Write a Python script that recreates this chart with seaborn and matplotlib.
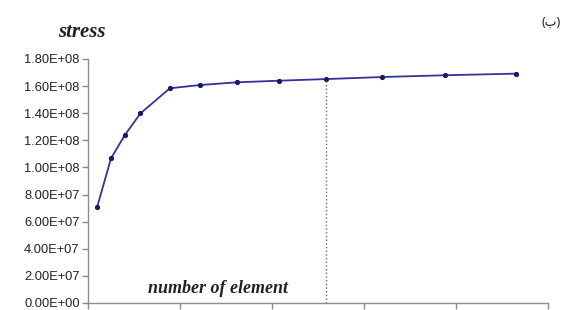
#!/usr/bin/env python3
"""Stress vs number of elements (convergence curve), Excel-style line chart."""

import matplotlib
matplotlib.use("Agg")
import matplotlib.pyplot as plt
import matplotlib.ticker as mticker
import pandas as pd
import seaborn as sns

# ── data ─────────────────────────────────────────────────────────────────────
n_elements = [10, 25, 40, 57, 89, 122, 162, 208, 259, 320, 388, 465]
stress = [7.10e7, 1.067e8, 1.239e8, 1.399e8, 1.584e8, 1.608e8,
          1.628e8, 1.640e8, 1.652e8, 1.667e8, 1.680e8, 1.692e8]
y_ticks = [0, 2e7, 4e7, 6e7, 8e7, 1e8, 1.2e8, 1.4e8, 1.6e8, 1.8e8]
x_ticks = [0, 100, 200, 300, 400, 500]
marker_x = 259  # dotted drop line at the chosen mesh

LINE = "#33339a"
AXIS = "#8c8c8c"

sns.set_theme(style="white")
plt.rcParams["font.family"] = ["Liberation Sans", "DejaVu Sans"]

df = pd.DataFrame({"n": n_elements, "stress": stress})

fig = plt.figure(figsize=(5.73, 3.10), dpi=100)
ax = fig.add_axes([0.1536, 0.0226, 0.8028, 0.7871])

sns.lineplot(data=df, x="n", y="stress", ax=ax, color=LINE, linewidth=1.3,
             marker="o", markersize=3, markeredgecolor="#1a1a66",
             markerfacecolor="#1a1a66")

# dotted drop line from the curve to the x axis
y_mark = stress[n_elements.index(marker_x)]
ax.plot([marker_x, marker_x], [0, y_mark], color="#666666", linestyle=":",
        linewidth=1.0)

ax.set_xlim(0, 500)
ax.set_ylim(0, 1.8e8)
ax.set_xticks(x_ticks)
ax.set_xticklabels([])
ax.set_yticks(y_ticks)
ax.yaxis.set_major_formatter(mticker.FuncFormatter(lambda v, _: f"{v:.2E}"))
ax.set_xlabel("")
ax.set_ylabel("")

for side in ("top", "right"):
    ax.spines[side].set_visible(False)
for side in ("left", "bottom"):
    ax.spines[side].set_color(AXIS)
    ax.spines[side].set_linewidth(1.0)

ax.tick_params(axis="y", direction="out", length=4, width=1, color=AXIS,
               labelsize=9.3, labelcolor="#222222", pad=2, left=True)
ax.tick_params(axis="x", direction="out", length=4, width=1, color=AXIS,
               bottom=True)

serif = ["Liberation Serif", "DejaVu Serif"]
fig.text(0.142, 0.897, "stress", family=serif, fontsize=15, fontweight="bold",
         fontstyle="italic", ha="center", va="center", color="#222222")
ax.text(0.2815, 0.061, "number of element", transform=ax.transAxes,
        family=serif, fontsize=13, fontweight="bold", fontstyle="italic",
        ha="center", va="center", color="#222222")
fig.text(0.962, 0.929, "(ب)", family=["Noto Sans", "DejaVu Sans"],
         fontsize=9, ha="center", va="center", color="#222222")

fig.savefig("out.png", dpi=100)
